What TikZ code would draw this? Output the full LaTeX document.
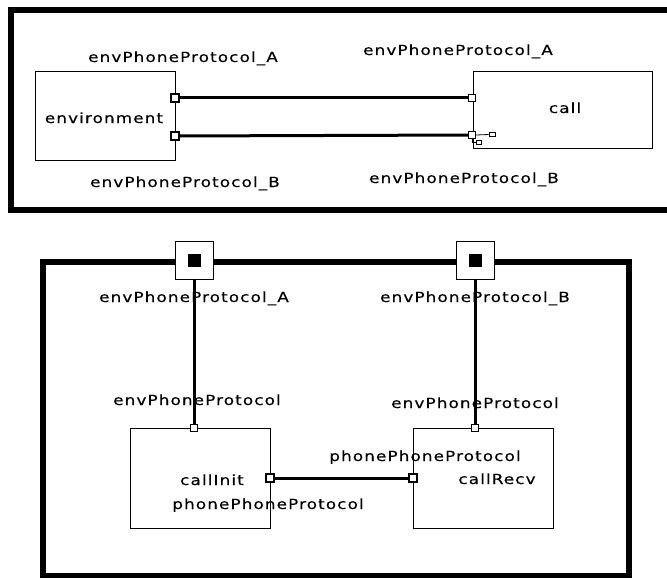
\documentclass[tikz,border=0pt]{standalone}
\usepackage{fontspec}
\newfontfamily\diagfont[FakeStretch=1.2, LetterSpace=8, FakeBold=0.4]{DejaVu Sans}
\usetikzlibrary{positioning}

\tikzset{
  frame/.style={draw, line width=6pt, inner sep=0},
  block/.style={draw, line width=1pt, inner sep=0},
  port/.style={draw, fill=white, line width=1.2pt, minimum size=7pt, inner sep=0},
  boldport/.style={port, line width=2pt, minimum size=8pt},
  tinyport/.style={draw, fill=white, line width=0.8pt, minimum width=6pt, minimum height=4pt, inner sep=0},
  relay/.style={draw, fill=white, line width=1pt, minimum size=38pt, inner sep=0},
  wire/.style={line width=3pt},
  lbl/.style={anchor=base, inner sep=0}
}

\begin{document}
\begin{tikzpicture}[x=1pt, y=-1pt, every node/.style={font=\diagfont\fontsize{14}{16}\selectfont}]
    \useasboundingbox (0,0) rectangle (667,578);
    % Top: system
    \node[frame, minimum width=661pt, minimum height=200pt] (sys) at (341.5,110) {};
    \node[block, minimum width=140pt, minimum height=88pt] (env) at (105,116) {};
    \node[block, minimum width=179pt, minimum height=76pt] (call) at (562.5,110) {};
    \node[lbl] (envT) at (104,123) {environment};
    \node[lbl] (callT) at (565,113) {call};
    % Top labels
    \node[lbl] (lA1) at (183,62) {envPhoneProtocol\_A};
    \node[lbl] (lA2) at (458,55) {envPhoneProtocol\_A};
    \node[lbl] (lB1) at (185,187) {envPhoneProtocol\_B};
    \node[lbl] (lB2) at (464,183) {envPhoneProtocol\_B};
    % Top ports
    \node[boldport] (eA) at (175,98) {};
    \node[boldport] (eB) at (175,136) {};
    \node[port] (cA) at (472,98) {};
    \node[port] (cB) at (472,135) {};
    \node[tinyport] (cBx) at (492,134.5) {};
    \node[tinyport, minimum width=5pt] (cBy) at (479,142) {};
    \draw[wire] (eA) -- (cA);
    \draw[wire] (eB) -- (cB);
    \draw[line width=0.8pt] (cB.east) -- (cBx.west);
    \draw[line width=0.8pt] (cB.south) |- (cBy.west);
    % Bottom: call structure
    \node[frame, minimum width=586.5pt, minimum height=313.5pt] (cs) at (335.75,418.75) {};
    \node[block, minimum width=140pt, minimum height=100pt] (init) at (200,478) {};
    \node[block, minimum width=140pt, minimum height=100pt] (recv) at (483,478) {};
    \node[lbl] (initT) at (212,485) {callInit};
    \node[lbl] (recvT) at (497,484) {callRecv};
    % Bottom labels
    \node[lbl] (rA) at (194,302) {envPhoneProtocol\_A};
    \node[lbl] (rB) at (475,302) {envPhoneProtocol\_B};
    \node[lbl] (iE) at (197,405) {envPhoneProtocol};
    \node[lbl] (rE) at (475,408) {envPhoneProtocol};
    \node[lbl] (iPP) at (268,509) {phonePhoneProtocol};
    \node[lbl] (rPP) at (425,461) {phonePhoneProtocol};
    % Relay ports on the frame
    \node[relay] (pA) at (194,260) {};
    \node[relay] (pB) at (475,260) {};
    \node[fill, minimum size=13pt, inner sep=0] (pAin) at (pA) {};
    \node[fill, minimum size=13pt, inner sep=0] (pBin) at (pB) {};
    % Part ports
    \node[port, line width=1pt] (iEp) at (194,428) {};
    \node[port, line width=1pt] (rEp) at (475,428) {};
    \node[boldport] (iPp) at (270,478) {};
    \node[boldport] (rPp) at (413,478) {};
    \draw[wire] (pA) -- (iEp);
    \draw[wire] (pB) -- (rEp);
    \draw[wire] (iPp) -- (rPp);
\end{tikzpicture}
\end{document}
